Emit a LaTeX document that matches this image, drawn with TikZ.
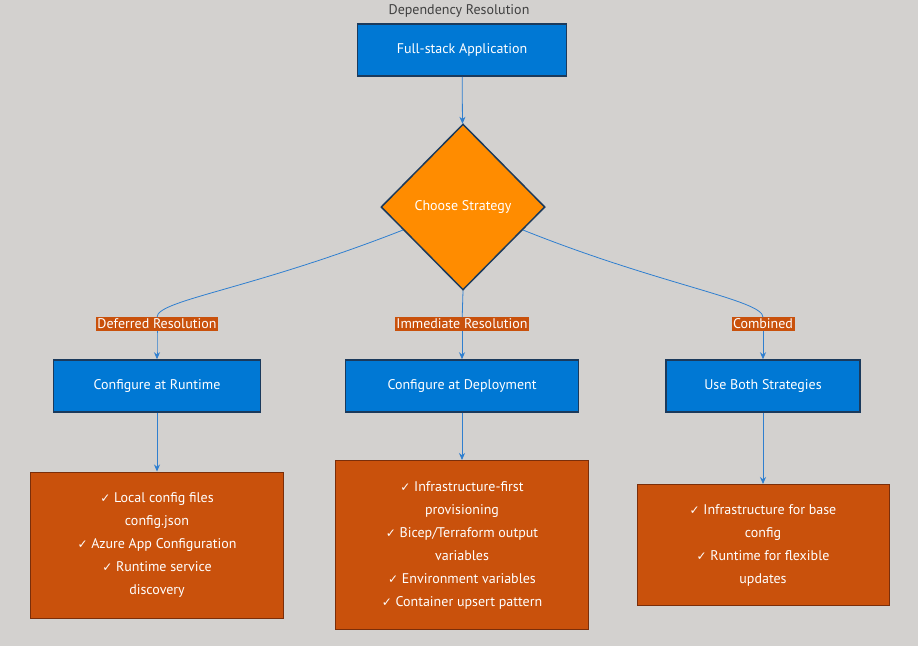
\documentclass[tikz,border=0pt]{standalone}
\usepackage{fontspec}
\setmainfont{PT Sans}
\newfontfamily\chk{DejaVu Sans}
\usetikzlibrary{shapes.geometric,arrows.meta}
\definecolor{bg}{HTML}{D3D1CF}
\definecolor{bluef}{HTML}{0078D4}
\definecolor{navy}{HTML}{1B3A5C}
\definecolor{orng}{HTML}{FF8C00}
\definecolor{rust}{HTML}{C9510C}
\definecolor{rustd}{HTML}{7A2E0A}
\definecolor{edge}{HTML}{2F7FCF}
\newcommand{\ck}{{\chk\fontsize{12}{15}\selectfont ✓}}
\tikzset{
 bluebox/.style={draw=navy,line width=1.5pt,fill=bluef,text=white,minimum height=52pt,font=\fontsize{14}{17}\selectfont},
 rustbox/.style={draw=rustd,line width=1pt,fill=rust,text=white,align=center,font=\fontsize{14}{23}\selectfont},
 lab/.style={fill=rust,text=white,inner sep=1.5pt,font=\fontsize{14}{17}\selectfont},
 conn/.style={draw=edge,line width=0.8pt},
 arr/.style={conn,-{Stealth[length=7pt,width=6pt]}}
}
\begin{document}
\begin{tikzpicture}[x=1pt,y=-1pt]
\fill[bg] (0,0) rectangle (918,646);
\useasboundingbox (0,0) rectangle (918,646);
\node[text=black!75,font=\fontsize{14}{17}\selectfont] (title) at (459,11) {Dependency Resolution};
\node[bluebox,minimum width=209pt] (app) at (462,50) {Full-stack Application};
\node[diamond,draw=navy,line width=1.5pt,fill=orng,text=white,minimum width=164pt,minimum height=166pt,inner sep=0pt,font=\fontsize{14}{17}\selectfont] (dia) at (463,207) {Choose Strategy};
\node[bluebox,minimum width=207pt] (rt) at (157,386) {Configure at Runtime};
\node[bluebox,minimum width=233pt] (dp) at (462,386) {Configure at Deployment};
\node[bluebox,minimum width=194pt] (both) at (763,386) {Use Both Strategies};
\node[lab] (l1) at (157,324) {Deferred Resolution};
\node[lab] (l2) at (462,324) {Immediate Resolution};
\node[lab] (l3) at (763,324) {Combined};
\node[rustbox,minimum width=253pt,minimum height=146pt] (b1) at (157,545) {\ck\ Local config files\\config.json\\\ck\ Azure App Configuration\\\ck\ Runtime service\\discovery};
\node[rustbox,minimum width=253pt,minimum height=169pt] (b2) at (462,545) {\ck\ Infrastructure-first\\provisioning\\\ck\ Bicep/Terraform output\\variables\\\ck\ Environment variables\\\ck\ Container upsert pattern};
\node[rustbox,minimum width=252pt,minimum height=121pt] (b3) at (763,545) {\ck\ Infrastructure for base\\config\\\ck\ Runtime for flexible\\updates};
\draw[arr] (app) -- (dia);
\draw[conn] (dia.south) -- (l2);
\draw[arr] (l2) -- (dp);
\draw[conn] (403,230) .. controls (250,290) and (157,300) .. (l1.north);
\draw[arr] (l1) .. controls (157,336) and (157,340) .. (rt.north);
\draw[conn] (523,230) .. controls (660,285) and (763,300) .. (l3.north);
\draw[arr] (l3) .. controls (763,336) and (763,340) .. (both.north);
\draw[arr] (rt) -- (b1);
\draw[arr] (dp) -- (b2);
\draw[arr] (both) -- (b3);
\end{tikzpicture}
\end{document}
